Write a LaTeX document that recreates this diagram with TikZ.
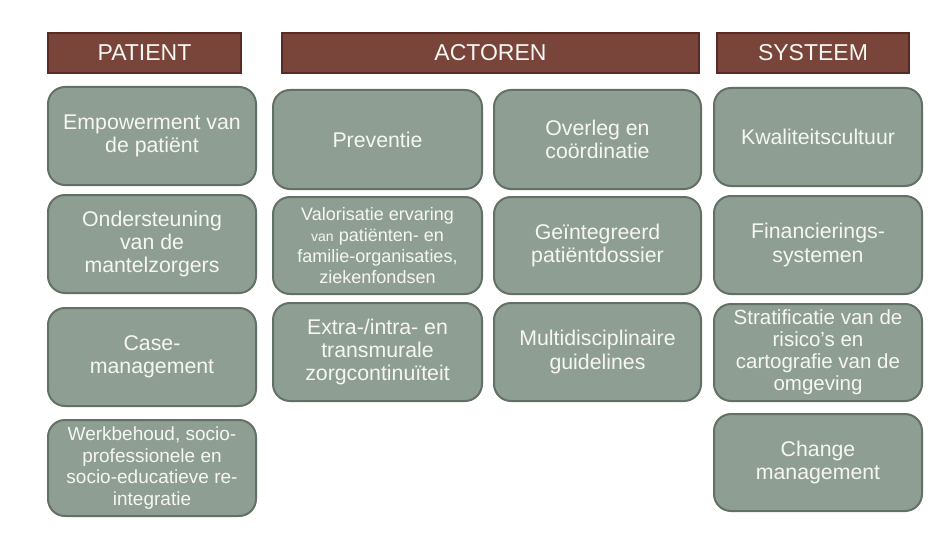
\documentclass[tikz,border=0pt]{standalone}
\usepackage{fontspec}
\setmainfont{Liberation Sans}
\definecolor{boxfill}{RGB}{143,158,147}
\definecolor{boxline}{RGB}{98,112,102}
\definecolor{headfill}{RGB}{121,68,58}
\definecolor{headline}{RGB}{88,44,36}
\definecolor{txt}{RGB}{246,246,242}
\tikzset{
  cell/.style={draw=boxline, fill=boxfill, line width=2pt, rounded corners=17pt,
    text=txt, align=center, inner sep=0pt, font=\fontsize{21.3}{23.3}\selectfont},
  head/.style={draw=headline, fill=headfill, line width=1.5pt, text=txt,
    inner sep=0pt, minimum height=40pt, font=\fontsize{23}{26}\selectfont},
}
\begin{document}
\begin{tikzpicture}[x=1pt,y=-1pt]
\useasboundingbox (0,0) rectangle (933,548);
\fill[white] (0,0) rectangle (933,548);
% headers
\node[head, minimum width=193pt] (hP) at (144.5,53) {PATIENT};
\node[head, minimum width=417pt] (hA) at (490.5,53) {ACTOREN};
\node[head, minimum width=192pt] (hS) at (813,53) {SYSTEEM};
% patient column
\node[cell, minimum width=208pt, minimum height=98pt] (p1) at (152,136) {Empowerment van\\de patiënt};
\node[cell, minimum width=208pt, minimum height=98pt] (p2) at (152,244) {Ondersteuning\\van de\\mantelzorgers};
\node[cell, minimum width=208pt, minimum height=98pt] (p3) at (152,357) {Case-\\management};
\node[cell, minimum width=208pt, minimum height=96pt, font=\fontsize{19}{21.7}\selectfont] (p4) at (152,468) {Werkbehoud, socio-\\professionele en\\socio-educatieve re-\\integratie};
% actoren
\node[cell, minimum width=209pt, minimum height=99pt] (a1) at (377.5,139.5) {Preventie};
\node[cell, minimum width=207pt, minimum height=99pt] (a2) at (597.5,139.5) {Overleg en\\coördinatie};
\node[cell, minimum width=209pt, minimum height=97pt, font=\fontsize{18}{21}\selectfont] (a3) at (377.5,245.5) {Valorisatie ervaring\\{\fontsize{14}{21}\selectfont van} patiënten- en\\familie-organisaties,\\ziekenfondsen};
\node[cell, minimum width=207pt, minimum height=97pt] (a4) at (597.5,245.5) {Geïntegreerd\\patiëntdossier};
\node[cell, minimum width=209pt, minimum height=98pt] (a5) at (377.5,352) {Extra-/intra- en\\transmurale\\zorgcontinuïteit};
\node[cell, minimum width=207pt, minimum height=98pt] (a6) at (597.5,352) {Multidisciplinaire\\guidelines};
% systeem
\node[cell, minimum width=208pt, minimum height=98pt] (s1) at (818,137) {Kwaliteitscultuur};
\node[cell, minimum width=208pt, minimum height=98pt] (s2) at (818,245) {Financierings-\\systemen};
\node[cell, minimum width=208pt, minimum height=97pt, font=\fontsize{20.5}{22}\selectfont] (s3) at (818,352.5) {Stratificatie van de\\risico's en\\cartografie van de\\omgeving};
\node[cell, minimum width=208pt, minimum height=97pt] (s4) at (818,462.5) {Change\\management};
\end{tikzpicture}
\end{document}
